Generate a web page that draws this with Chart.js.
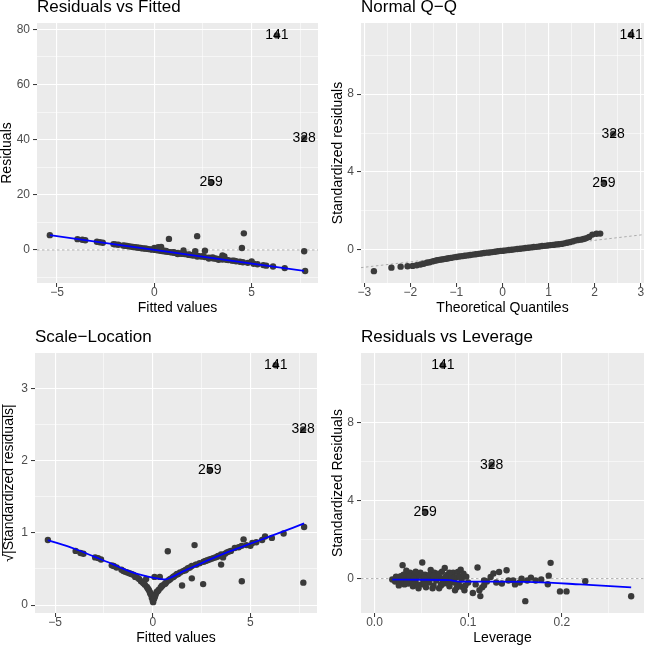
<!DOCTYPE html>
<html>
<head>
<meta charset="utf-8">
<script src="https://cdn.jsdelivr.net/npm/chart.js@4.4.1/dist/chart.umd.min.js"></script>
<style>
  html, body { margin: 0; padding: 0; background: #ffffff; }
  #wrap { position: relative; width: 648px; height: 648px; overflow: hidden; }
  #wrap canvas { position: absolute; }
</style>
</head>
<body>
<div id="wrap">
  <canvas id="rvf" width="324" height="324" style="left:0;top:0"></canvas>
  <canvas id="qq" width="324" height="324" style="left:324px;top:0"></canvas>
  <canvas id="sl" width="324" height="324" style="left:0;top:330px"></canvas>
  <canvas id="lev" width="324" height="324" style="left:324px;top:330px"></canvas>
</div>
<script>
// --- data ---
const outlierNames = ['141', '328', '259'];

// Residuals vs Fitted
const rvfFitted = [-5.37, -3.95, -3.7, -3.55, -2.95, -2.8, -2.65, -2.1, -2.0, -1.85,
  -1.6, -1.5, -1.4, -1.3, -1.2, -1.1, -1.0, -0.9, -0.8, -0.7,
  -0.6, -0.5, -0.4, -0.3, -0.2, -0.1, 0.0, 0.05, 0.15, 0.2,
  0.3, 0.35, 0.4, 0.5, 0.6, 0.7, 0.75, 0.8, 0.9, 1.0,
  1.1, 1.2, 1.3, 1.4, 1.5, 1.55, 1.7, 1.8, 1.9, 2.0,
  2.1, 2.2, 2.25, 2.4, 2.6, 2.6, 2.8, 2.9, 3.0, 3.1,
  3.2, 3.35, 3.5, 3.5, 3.6, 3.7, 3.8, 4.0, 4.2, 4.4,
  4.5, 4.55, 4.6, 4.8, 5.0, 5.1, 5.3, 5.6, 5.75, 6.1,
  6.7, 7.7, 7.75, 0.5, 1.0, 1.5, 2.0, 2.5, 3.0, 3.5,
  1.2, 2.2, 2.8, 3.3, 0.6, 1.8, 4.1];
const rvfResid = [5.35, 3.9, 3.7, 3.5, 2.95, 2.8, 2.6, 2.1, 2.0, 1.9,
  1.6, 1.5, 1.4, 1.3, 1.2, 1.1, 1.0, 0.85, 0.8, 0.7,
  0.55, 0.5, 0.4, 0.3, 0.2, 0.1, 0.7, 0.0, -0.1, 1.0,
  -0.3, 1.1, -0.4, -0.5, -0.6, -0.7, 4.0, -0.8, -0.9, -1.0,
  -1.1, -1.2, -1.3, -1.4, -0.2, -1.5, -1.7, -1.8, -1.9, -2.0,
  -0.5, 5.0, -2.2, -2.4, -0.3, -2.6, -2.8, -2.9, -3.0, -3.1,
  -3.2, -3.3, -2.0, -3.5, -2.4, -3.6, -3.7, -3.9, -4.1, -4.3,
  0.7, -4.5, 6.0, -4.7, -4.2, -5.0, -5.2, -5.5, -5.7, -6.0,
  -6.6, -0.5, -7.65, -0.3, -0.8, -1.3, -1.8, -2.3, -2.7, -3.2,
  -1.5, -2.4, -3.1, -3.6, -0.4, -1.6, -3.9];
const rvfOutFitted = [6.3, 7.7, 2.92];
const rvfOutResid = [77.8, 40.6, 24.5];
const rvfSmoothX = [-5.37, 0, 7.69];
const rvfSmoothY = [5.35, 0.0, -7.64];
const rvfXTicks = [-5, 0, 5];
const rvfXMinor = [-2.5, 2.5, 7.5];
const rvfYTicks = [0, 20, 40, 60, 80];
const rvfYMinor = [-10, 10, 30, 50, 70];

// Normal Q-Q
const qqTheo = [-2.79, -2.41, -2.21, -2.06, -1.95, -1.86, -1.78, -1.71, -1.64, -1.58,
  -1.52, -1.47, -1.42, -1.37, -1.32, -1.27, -1.22, -1.17, -1.12, -1.06,
  -1.0, -0.94, -0.88, -0.82, -0.76, -0.7, -0.64, -0.58, -0.52, -0.46,
  -0.4, -0.34, -0.28, -0.22, -0.16, -0.1, -0.04, 0.02, 0.08, 0.14,
  0.2, 0.26, 0.32, 0.38, 0.44, 0.5, 0.56, 0.62, 0.68, 0.74,
  0.8, 0.86, 0.92, 0.98, 1.04, 1.1, 1.16, 1.22, 1.28, 1.34,
  1.4, 1.46, 1.52, 1.58, 1.64, 1.7, 1.76, 1.82, 1.88, 1.95,
  2.04, 2.12];
const qqStd = [-1.1, -0.92, -0.87, -0.85, -0.83, -0.8, -0.76, -0.72, -0.67, -0.64,
  -0.6, -0.57, -0.54, -0.52, -0.5, -0.48, -0.46, -0.44, -0.42, -0.39,
  -0.37, -0.35, -0.33, -0.31, -0.29, -0.27, -0.25, -0.23, -0.21, -0.19,
  -0.17, -0.15, -0.14, -0.12, -0.1, -0.08, -0.06, -0.05, -0.03, -0.01,
  0.0, 0.02, 0.04, 0.05, 0.07, 0.09, 0.1, 0.12, 0.14, 0.15,
  0.17, 0.19, 0.2, 0.22, 0.24, 0.25, 0.27, 0.28, 0.3, 0.33,
  0.36, 0.39, 0.43, 0.47, 0.5, 0.52, 0.55, 0.6, 0.66, 0.78,
  0.82, 0.83];
const qqOutTheo = [2.79, 2.4, 2.2];
const qqOutStd = [11.05, 5.96, 3.45];
const qqLineX = [-3.07, 3.07];
const qqLineY = [-0.92, 0.78];
const qqXTicks = [-3, -2, -1, 0, 1, 2, 3];
const qqXMinor = [-2.5, -1.5, -0.5, 0.5, 1.5, 2.5];
const qqYTicks = [0, 4, 8];
const qqYMinor = [2, 6, 10];

// Scale-Location
const slFitted = [-5.37, -3.95, -3.7, -3.55, -2.95, -2.8, -2.65, -2.1, -2.0, -1.85,
  -1.6, -1.5, -1.4, -1.3, -1.2, -1.1, -1.0, -0.9, -0.8, -0.7,
  -0.6, -0.5, -0.4, -0.34, -0.3, -0.2, -0.15, -0.1, -0.05, 0.0,
  0.05, 0.1, 0.09, 0.15, 0.2, 0.3, 0.36, 0.4, 0.5, 0.6,
  0.7, 0.77, 0.8, 0.9, 1.0, 1.1, 1.2, 1.3, 1.4, 1.5,
  1.55, 1.7, 1.8, 1.9, 2.0, 2.0, 2.14, 2.25, 2.4, 2.58,
  2.6, 2.8, 2.9, 3.0, 3.1, 3.2, 3.35, 3.5, 3.5, 3.6,
  3.7, 3.8, 4.0, 4.2, 4.4, 4.56, 4.55, 4.65, 4.8, 5.0,
  5.1, 5.3, 5.6, 5.75, 6.1, 6.7, 7.71, 7.75, -0.45, -0.25,
  -0.12, 0.02, 0.07, 0.12, 0.25, 0.45, 0.65, 1.25, 1.65, 2.2,
  2.7, 3.3, 3.9, 0.85, 1.05];
const slRoot = [0.9, 0.75, 0.72, 0.71, 0.66, 0.65, 0.63, 0.55, 0.54, 0.52,
  0.49, 0.47, 0.46, 0.45, 0.44, 0.43, 0.42, 0.39, 0.38, 0.36,
  0.33, 0.31, 0.28, 0.36, 0.25, 0.21, 0.18, 0.15, 0.1, 0.06,
  0.08, 0.11, 0.39, 0.15, 0.18, 0.21, 0.39, 0.24, 0.27, 0.29,
  0.32, 0.745, 0.34, 0.36, 0.38, 0.4, 0.42, 0.43, 0.45, 0.27,
  0.47, 0.49, 0.51, 0.52, 0.54, 0.37, 0.83, 0.56, 0.58, 0.29,
  0.6, 0.62, 0.63, 0.64, 0.65, 0.66, 0.68, 0.56, 0.7, 0.66,
  0.71, 0.73, 0.75, 0.79, 0.8, 0.33, 0.82, 0.91, 0.83, 0.82,
  0.86, 0.87, 0.9, 0.95, 0.93, 0.99, 0.31, 1.08, 0.3, 0.23,
  0.16, 0.04, 0.09, 0.13, 0.19, 0.26, 0.3, 0.43, 0.48, 0.56,
  0.61, 0.67, 0.74, 0.35, 0.39];
const slOutFitted = [6.3, 7.7, 2.92];
const slOutRoot = [3.32, 2.43, 1.87];
const slSmoothX = [-5.37, -4, -3, -2, -1.5, -1, -0.5, 0, 0.65, 1, 1.5, 2, 3, 4, 5, 6, 7.75];
const slSmoothY = [0.9, 0.78, 0.67, 0.56, 0.5, 0.45, 0.41, 0.38, 0.355, 0.39, 0.46, 0.52, 0.64, 0.75, 0.85, 0.95, 1.13];
const slXTicks = [-5, 0, 5];
const slXMinor = [-2.5, 2.5, 7.5];
const slYTicks = [0, 1, 2, 3];
const slYMinor = [0.5, 1.5, 2.5];

// Residuals vs Leverage
const levX = [0.019, 0.022, 0.025, 0.027, 0.028, 0.03, 0.03, 0.032, 0.033, 0.035,
  0.036, 0.038, 0.039, 0.04, 0.041, 0.043, 0.044, 0.045, 0.047, 0.048,
  0.05, 0.051, 0.052, 0.054, 0.055, 0.057, 0.058, 0.06, 0.061, 0.063,
  0.064, 0.066, 0.067, 0.069, 0.07, 0.072, 0.074, 0.075, 0.077, 0.078,
  0.08, 0.081, 0.083, 0.084, 0.086, 0.087, 0.089, 0.09, 0.092, 0.093,
  0.094, 0.096, 0.098, 0.1, 0.105, 0.108, 0.11, 0.112, 0.113, 0.115,
  0.117, 0.117, 0.12, 0.124, 0.127, 0.13, 0.133, 0.136, 0.141, 0.143,
  0.148, 0.15, 0.155, 0.157, 0.161, 0.163, 0.167, 0.172, 0.178, 0.185,
  0.186, 0.188, 0.198, 0.205, 0.225, 0.274, 0.023, 0.026, 0.029, 0.031,
  0.034, 0.037, 0.042, 0.046, 0.049, 0.053, 0.056, 0.059, 0.062, 0.065,
  0.068, 0.071, 0.073, 0.076, 0.079, 0.082, 0.085, 0.088, 0.091, 0.095,
  0.097, 0.034, 0.044, 0.053, 0.063, 0.071, 0.08];
const levStd = [-0.05, -0.15, 0.05, -0.2, 0.12, 0.69, -0.1, -0.3, 0.2, 0.0,
  -0.25, 0.3, -0.12, 0.1, -0.4, 0.25, -0.2, 0.05, -0.5, 0.15,
  -0.3, 0.83, -0.05, 0.2, -0.45, 0.1, -0.2, 0.45, 0.0, -0.35,
  0.3, -0.1, 0.15, -0.5, 0.05, 0.35, -0.25, 0.55, -0.05, 0.2,
  -0.4, 0.1, -0.15, 0.3, -0.6, 0.05, 0.34, -0.3, 0.46, -0.05,
  -0.43, -0.6, 0.1, -0.2, -0.74, -0.3, 0.57, -0.6, -0.9, -0.45,
  -0.09, -0.34, -0.15, 0.08, 0.26, -0.2, 0.34, -0.25, 0.43, -0.1,
  -0.09, -0.3, -0.2, 0.0, -1.16, -0.1, 0.05, -0.1, -0.05, -0.29,
  0.15, 0.81, -0.66, -0.66, -0.14, -0.91, 0.1, -0.35, -0.05, 0.2,
  -0.15, 0.1, 0.0, -0.35, 0.3, -0.2, 0.0, 0.2, -0.5, 0.05,
  0.25, -0.3, -0.1, 0.1, -0.25, 0.05, -0.2, -0.45, 0.1, 0.25,
  -0.35, 0.4, 0.35, 0.05, 0.15, -0.35, 0.3];
const levOutX = [0.073, 0.125, 0.054];
const levOutStd = [10.96, 5.85, 3.44];
const levSmoothX = [0.019, 0.05, 0.08, 0.09, 0.13, 0.17, 0.22, 0.274];
const levSmoothY = [-0.05, -0.06, -0.08, -0.16, -0.16, -0.18, -0.3, -0.45];
const levXTicks = [0, 0.1, 0.2];
const levXMinor = [0.05, 0.15, 0.25];
const levYTicks = [0, 4, 8];
const levYMinor = [2, 6, 10];

// --- drawing ---
const FONT = '"Liberation Sans", Arial, Helvetica, sans-serif';
const POINT = '#3a3a3a';
Chart.defaults.font.family = FONT;

function pairs(xs, ys) {
    return xs.map((x, i) => ({ x: x, y: ys[i] }));
}

function fmt(v, digits) {
    const s = Math.abs(v).toFixed(digits);
    return v < -1e-9 ? '\u2212' + s : s;
}

const panelBg = {
    id: 'panelBg',
    beforeDraw(chart) {
        const a = chart.chartArea;
        const ctx = chart.ctx;
        ctx.save();
        ctx.fillStyle = '#EBEBEB';
        ctx.fillRect(a.left, a.top, a.right - a.left, a.bottom - a.top);
        ctx.restore();
    }
};

function outlierText(xs, ys) {
    return {
        id: 'outlierText',
        afterDatasetsDraw(chart) {
            const { ctx, scales } = chart;
            ctx.save();
            ctx.font = '14px ' + FONT;
            ctx.fillStyle = '#000000';
            ctx.textAlign = 'center';
            ctx.textBaseline = 'middle';
            xs.forEach((v, i) => {
                ctx.fillText(outlierNames[i], scales.x.getPixelForValue(v), scales.y.getPixelForValue(ys[i]));
            });
            ctx.restore();
        }
    };
}

// bar over |Standardized residuals| for the square root label
const radicalBar = {
    id: 'radicalBar',
    afterDraw(chart) {
        const s = chart.scales.y;
        const ctx = chart.ctx;
        ctx.save();
        ctx.font = '14px ' + FONT;
        const full = ctx.measureText(s.options.title.text).width;
        const root = ctx.measureText('\u221A').width;
        const cx = s.left + s.options.title.padding.top + 7;
        const cy = (s.top + s.bottom) / 2;
        ctx.strokeStyle = '#000000';
        ctx.lineWidth = 0.8;
        ctx.beginPath();
        ctx.moveTo(cx - 6.5, cy + full / 2 - root * 0.75);
        ctx.lineTo(cx - 6.5, cy - full / 2);
        ctx.stroke();
        ctx.restore();
    }
};

function buildAxis(spec, isX) {
    const all = spec.major.concat(spec.minor).sort((a, b) => a - b);
    const isMajor = v => spec.major.some(m => Math.abs(m - v) < 1e-9);
    return {
        type: 'linear',
        position: isX ? 'bottom' : 'left',
        min: spec.min,
        max: spec.max,
        afterBuildTicks: s => { s.ticks = all.map(v => ({ value: v })); },
        afterFit: s => {
            if (isX) s.height = spec.size; else s.width = spec.size;
            s.paddingLeft = 0; s.paddingRight = 0; s.paddingTop = 0; s.paddingBottom = 0;
        },
        border: { display: false },
        grid: {
            color: '#FFFFFF',
            lineWidth: c => (c.tick && isMajor(c.tick.value)) ? 1.1 : 0.55,
            drawTicks: true,
            tickLength: 4,
            tickWidth: 1,
            tickColor: c => (c.tick && isMajor(c.tick.value)) ? '#333333' : 'rgba(0,0,0,0)'
        },
        ticks: {
            autoSkip: false,
            maxRotation: 0,
            minRotation: 0,
            padding: isX ? 0 : 3,
            color: '#4D4D4D',
            font: { size: 12, lineHeight: 1 },
            callback: v => isMajor(v) ? fmt(v, spec.digits) : ''
        },
        title: {
            display: true,
            text: spec.title,
            color: '#000000',
            font: { size: 14, lineHeight: 1 },
            padding: isX ? { top: 0, bottom: 8.5 } : { top: spec.titlePad, bottom: 0 }
        }
    };
}

function pointSet(xs, ys) {
    return {
        data: pairs(xs, ys),
        pointRadius: 3.2,
        pointBackgroundColor: POINT,
        pointBorderWidth: 0,
        showLine: false,
        order: 2
    };
}

function lineSet(xs, ys, color, width, dash, order) {
    return {
        data: pairs(xs, ys),
        showLine: true,
        pointRadius: 0,
        borderColor: color,
        borderWidth: width,
        borderDash: dash,
        cubicInterpolationMode: 'monotone',
        order: order
    };
}

function makePanel(id, cfg) {
    const plugins = [panelBg, outlierText(cfg.outX, cfg.outY)];
    if (cfg.extra) plugins.push(cfg.extra);
    return new Chart(document.getElementById(id), {
        type: 'scatter',
        data: { datasets: cfg.datasets },
        options: {
            responsive: false,
            animation: false,
            events: [],
            layout: { padding: { left: 0, right: cfg.rightPad, top: 0, bottom: 0 } },
            plugins: {
                legend: { display: false },
                tooltip: { enabled: false },
                title: {
                    display: true,
                    text: cfg.title,
                    align: 'start',
                    fullSize: false,
                    color: '#000000',
                    font: { size: 17, lineHeight: 1, weight: 'normal' },
                    padding: { top: -1, bottom: 7 }
                }
            },
            scales: {
                x: buildAxis(cfg.x, true),
                y: buildAxis(cfg.y, false)
            }
        },
        plugins: plugins
    });
}

const DASH = '#9A9A9A';
const BLUE = '#0000FF';

makePanel('rvf', {
    title: 'Residuals vs Fitted',
    rightPad: 6,
    outX: rvfOutFitted, outY: rvfOutResid,
    x: { min: -6.03, max: 8.41, major: rvfXTicks, minor: rvfXMinor, digits: 0, size: 41, title: 'Fitted values' },
    y: { min: -12.0, max: 82.3, major: rvfYTicks, minor: rvfYMinor, digits: 0, size: 37, title: 'Residuals', titlePad: 0.3 },
    datasets: [
        lineSet([-6.03, 8.41], [0, 0], DASH, 0.8, [2.5, 2.5], 3),
        pointSet(rvfFitted, rvfResid),
        pointSet(rvfOutFitted, rvfOutResid),
        lineSet(rvfSmoothX, rvfSmoothY, BLUE, 1.8, [], 1)
    ]
});

makePanel('qq', {
    title: 'Normal Q\u2212Q',
    rightPad: 0,
    outX: qqOutTheo, outY: qqOutStd,
    x: { min: -3.07, max: 3.07, major: qqXTicks, minor: qqXMinor, digits: 0, size: 41, title: 'Theoretical Quantiles' },
    y: { min: -1.71, max: 11.66, major: qqYTicks, minor: qqYMinor, digits: 0, size: 37, title: 'Standardized residuals', titlePad: 7.5 },
    datasets: [
        lineSet(qqLineX, qqLineY, DASH, 0.8, [2.5, 2.5], 3),
        pointSet(qqTheo, qqStd),
        pointSet(qqOutTheo, qqOutStd)
    ]
});

makePanel('sl', {
    title: 'Scale\u2212Location',
    rightPad: 7,
    outX: slOutFitted, outY: slOutRoot,
    extra: radicalBar,
    x: { min: -6.03, max: 8.41, major: slXTicks, minor: slXMinor, digits: 0, size: 41, title: 'Fitted values' },
    y: { min: -0.11, max: 3.49, major: slYTicks, minor: slYMinor, digits: 0, size: 35, title: '\u221A|Standardized residuals|', titlePad: 2 },
    datasets: [
        pointSet(slFitted, slRoot),
        pointSet(slOutFitted, slOutRoot),
        lineSet(slSmoothX, slSmoothY, BLUE, 1.8, [], 1)
    ]
});

makePanel('lev', {
    title: 'Residuals vs Leverage',
    rightPad: 0,
    outX: levOutX, outY: levOutStd,
    x: { min: -0.0144, max: 0.2877, major: levXTicks, minor: levXMinor, digits: 1, size: 41, title: 'Leverage' },
    y: { min: -1.77, max: 11.6, major: levYTicks, minor: levYMinor, digits: 0, size: 37, title: 'Standardized Residuals', titlePad: 6.7 },
    datasets: [
        lineSet([-0.0144, 0.2877], [0, 0], DASH, 0.8, [2.5, 2.5], 3),
        pointSet(levX, levStd),
        pointSet(levOutX, levOutStd),
        lineSet(levSmoothX, levSmoothY, BLUE, 1.8, [], 1)
    ]
});
</script>
</body>
</html>
